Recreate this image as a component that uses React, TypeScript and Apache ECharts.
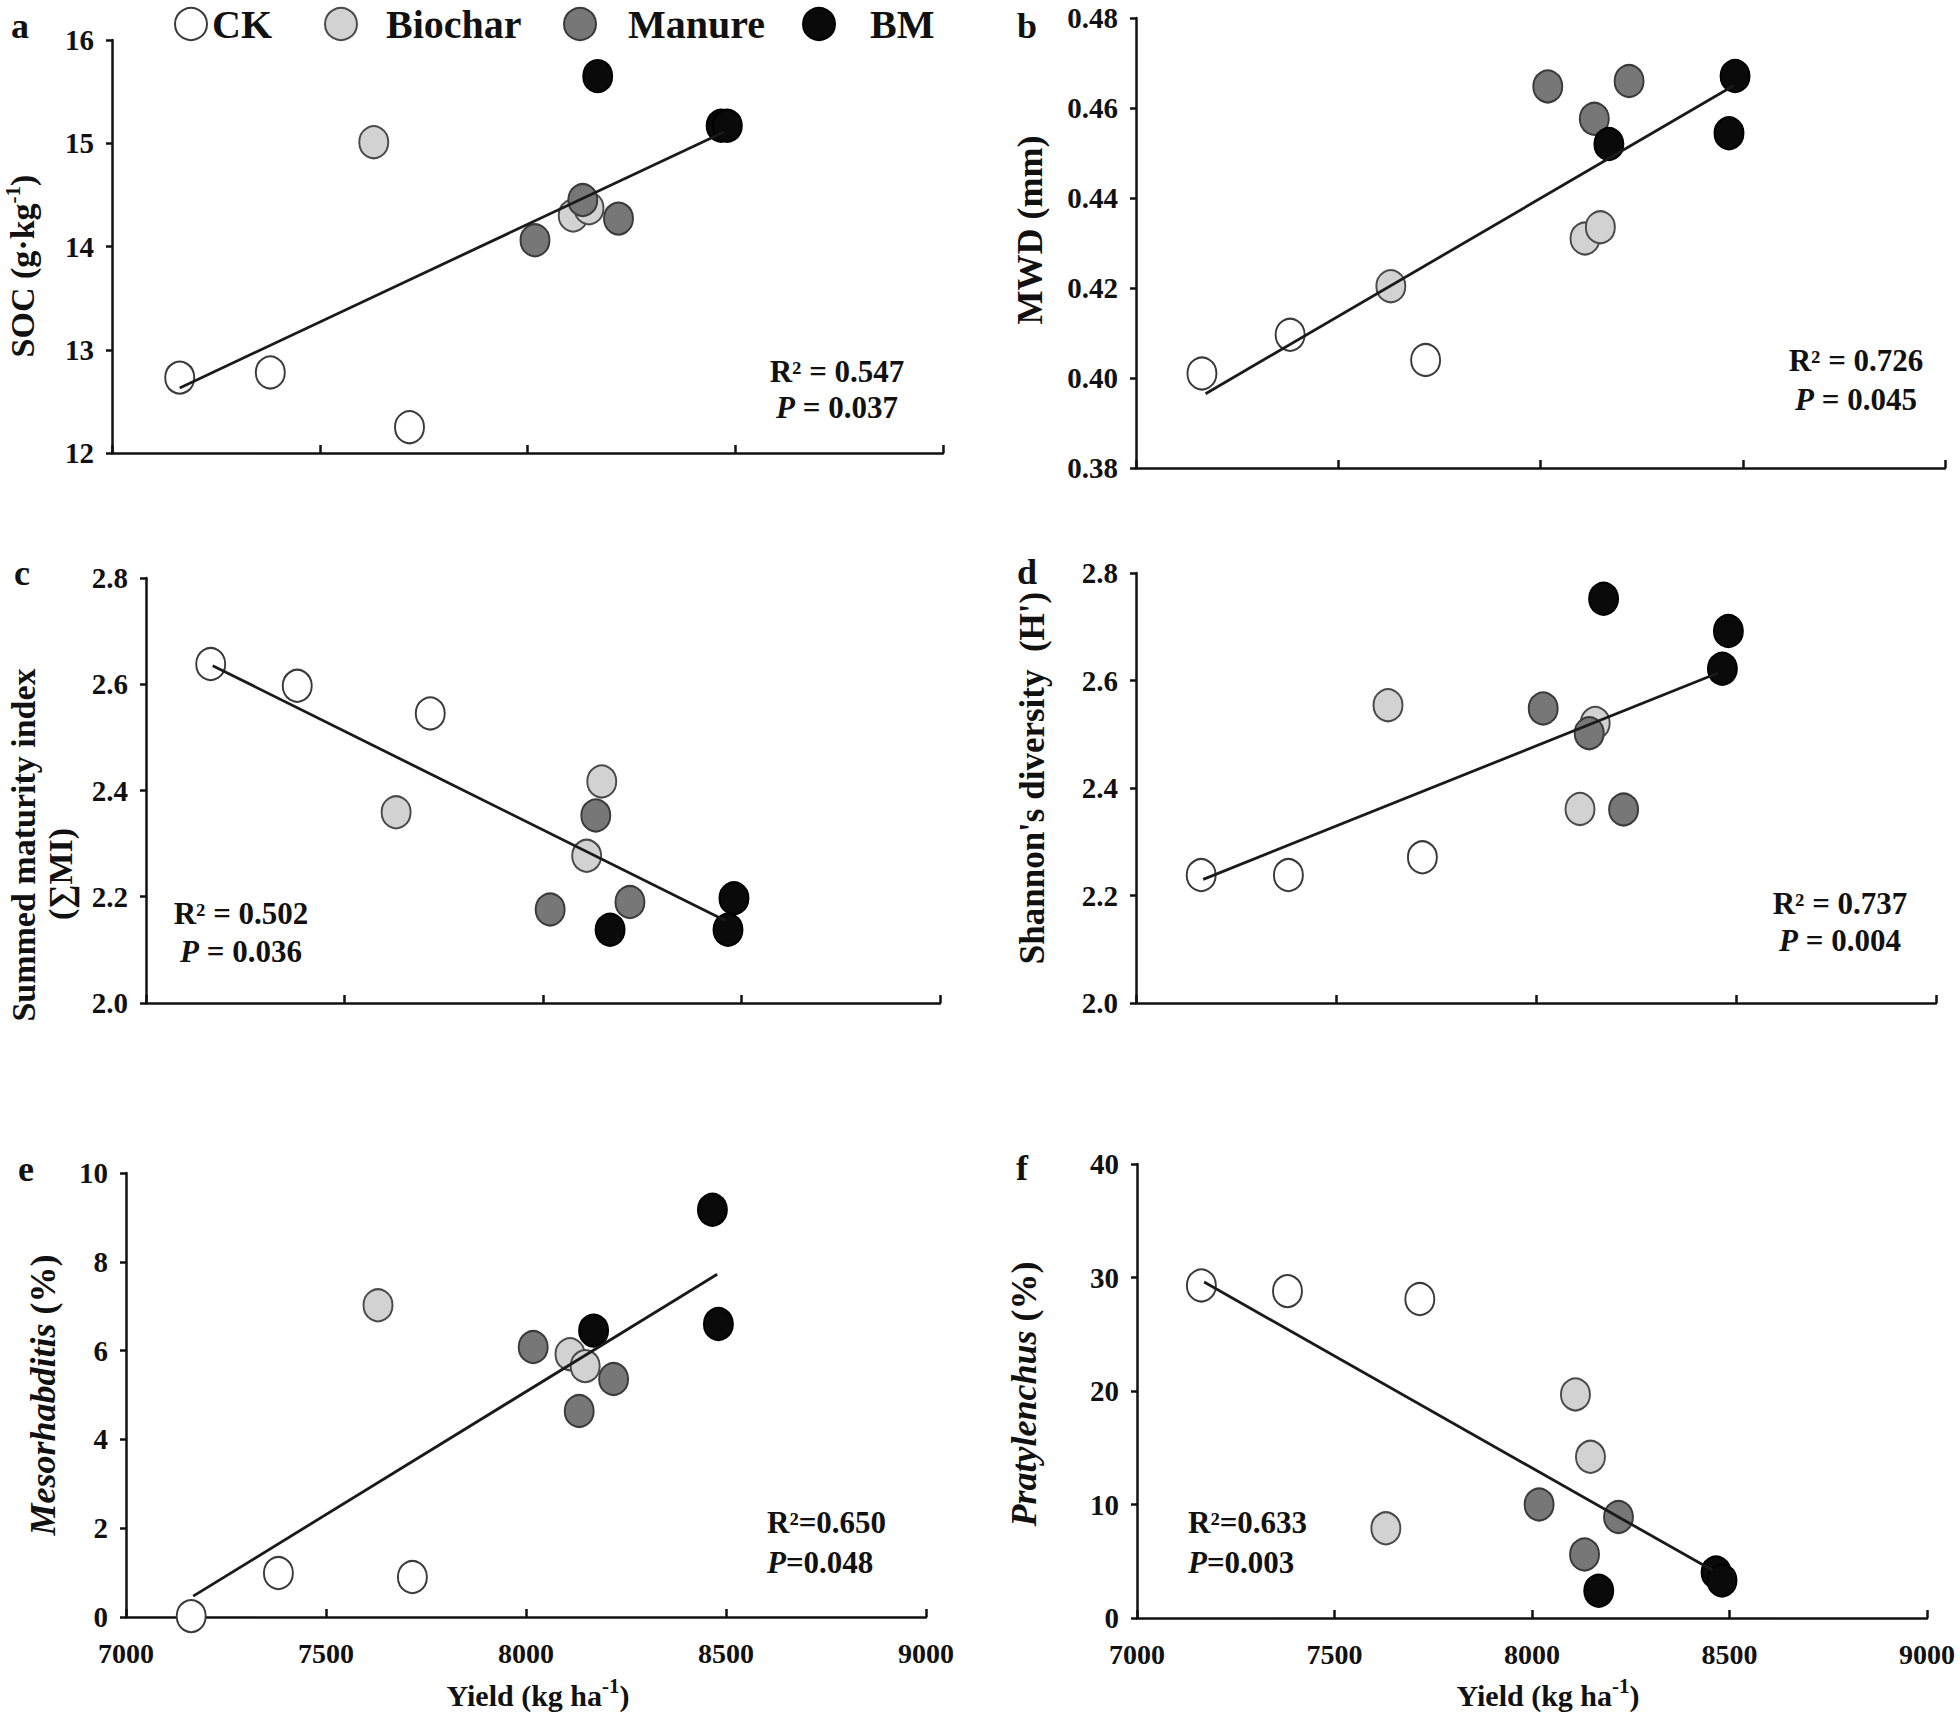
import React, { useEffect, useRef } from "react";
import * as echarts from "echarts";

// ---------- DATA ----------
const groups = ["CK", "Biochar", "Manure", "BM"];
const yieldCK = [7163, 7381, 7716];
const yieldBiochar = [7630, 8110, 8148];
const yieldManure = [8018, 8133, 8219];
const yieldBM = [8169, 8466, 8481];

const socCK = [12.73, 12.78, 12.25];
const socBiochar = [15.01, 14.3, 14.37];
const socManure = [14.06, 14.45, 14.27];
const socBM = [15.65, 15.17, 15.17];

const mwdCK = [0.401, 0.4096, 0.404];
const mwdBiochar = [0.4204, 0.431, 0.4335];
const mwdManure = [0.4648, 0.4576, 0.466];
const mwdBM = [0.452, 0.4544, 0.4671];

const smiCK = [2.638, 2.597, 2.545];
const smiBiochar = [2.359, 2.277, 2.417];
const smiManure = [2.176, 2.353, 2.19];
const smiBM = [2.138, 2.138, 2.197];

const shCK = [2.238, 2.238, 2.271];
const shBiochar = [2.554, 2.361, 2.521];
const shManure = [2.548, 2.502, 2.36];
const shBM = [2.752, 2.622, 2.692];

const mesoCK = [0.02, 0.99, 0.9];
const mesoBiochar = [7.02, 5.92, 5.65];
const mesoManure = [6.08, 4.64, 5.36];
const mesoBM = [6.45, 9.17, 6.6];

const pratCK = [29.3, 28.8, 28.1];
const pratBiochar = [7.9, 19.7, 14.2];
const pratManure = [10.0, 5.6, 8.9];
const pratBM = [2.4, 4.0, 3.3];

const trendSOC = [[7163, 12.63], [8473, 15.11]];
const trendMWD = [[7172, 0.3965], [8478, 0.465]];
const trendSMI = [[7168, 2.635], [8460, 2.155]];
const trendSH = [[7168, 2.23], [8455, 2.614]];
const trendMESO = [[7168, 0.47], [8478, 7.72]];
const trendPRAT = [[7170, 29.6], [8457, 4.2]];

const statsR2 = ["R² = 0.547", "R² = 0.726", "R² = 0.502", "R² = 0.737", "R²=0.650", "R²=0.633"];
const statsP = [" = 0.037", " = 0.045", " = 0.036", " = 0.004", "=0.048", "=0.003"];
const xTicks = [7000, 9000, 500];

// ---------- STYLE ----------
const FONT = '"Liberation Serif", "Times New Roman", serif';
const INK = "#111111";
const groupStyles = [
  { color: "#ffffff", borderColor: "#3a3a3a" },
  { color: "#d2d2d2", borderColor: "#4a4a4a" },
  { color: "#777777", borderColor: "#3a3a3a" },
  { color: "#0a0a0a", borderColor: "#000000" },
];
const yields = [yieldCK, yieldBiochar, yieldManure, yieldBM];

const panels = [
  { grid: { left: 112, top: 40, width: 831, height: 413 }, yMin: 12, yMax: 16, yInt: 1, dec: 0, xLabels: false,
    values: [socCK, socBiochar, socManure, socBM], trend: trendSOC },
  { grid: { left: 1136, top: 18, width: 809, height: 450 }, yMin: 0.38, yMax: 0.48, yInt: 0.02, dec: 2, xLabels: false,
    values: [mwdCK, mwdBiochar, mwdManure, mwdBM], trend: trendMWD },
  { grid: { left: 146, top: 578, width: 794, height: 425 }, yMin: 2.0, yMax: 2.8, yInt: 0.2, dec: 1, xLabels: false,
    values: [smiCK, smiBiochar, smiManure, smiBM], trend: trendSMI },
  { grid: { left: 1136, top: 573, width: 800, height: 430 }, yMin: 2.0, yMax: 2.8, yInt: 0.2, dec: 1, xLabels: false,
    values: [shCK, shBiochar, shManure, shBM], trend: trendSH },
  { grid: { left: 126, top: 1173, width: 800, height: 444 }, yMin: 0, yMax: 10, yInt: 2, dec: 0, xLabels: true,
    values: [mesoCK, mesoBiochar, mesoManure, mesoBM], trend: trendMESO },
  { grid: { left: 1137, top: 1164, width: 790, height: 454 }, yMin: 0, yMax: 40, yInt: 10, dec: 0, xLabels: true,
    values: [pratCK, pratBiochar, pratManure, pratBM], trend: trendPRAT },
];

const statsPos = [
  { x: 837, y1: 371, y2: 407, align: "center" },
  { x: 1856, y1: 360, y2: 399, align: "center" },
  { x: 241, y1: 913, y2: 951, align: "center" },
  { x: 1840, y1: 903, y2: 940, align: "center" },
  { x: 767, y1: 1522, y2: 1562, align: "left" },
  { x: 1188, y1: 1522, y2: 1562, align: "left" },
];

const letters = [
  { t: "a", x: 20, y: 26 },
  { t: "b", x: 1027, y: 26 },
  { t: "c", x: 22, y: 573 },
  { t: "d", x: 1027, y: 572 },
  { t: "e", x: 26, y: 1169 },
  { t: "f", x: 1022, y: 1168 },
];

function buildOption() {
  const grid: any[] = [];
  const xAxis: any[] = [];
  const yAxis: any[] = [];
  const series: any[] = [];

  panels.forEach((p, i) => {
    grid.push({ ...p.grid, containLabel: false, outerBoundsMode: "none" });
    xAxis.push({
      type: "value",
      gridIndex: i,
      min: xTicks[0],
      max: xTicks[1],
      interval: xTicks[2],
      splitLine: { show: false },
      axisLine: { show: true, onZero: false, lineStyle: { color: INK, width: 2.5 } },
      axisTick: { show: true, inside: true, length: 8, lineStyle: { color: INK, width: 2.5 } },
      axisLabel: {
        show: p.xLabels,
        margin: 22,
        color: INK,
        fontFamily: FONT,
        fontWeight: "bold",
        fontSize: 28,
        formatter: (v: number) => String(Math.round(v)),
      },
    });
    yAxis.push({
      type: "value",
      gridIndex: i,
      min: p.yMin,
      max: p.yMax,
      interval: p.yInt,
      splitLine: { show: false },
      axisLine: { show: true, onZero: false, lineStyle: { color: INK, width: 2.5 } },
      axisTick: { show: true, inside: false, length: 6, lineStyle: { color: INK, width: 2.5 } },
      axisLabel: {
        margin: 18,
        color: INK,
        fontFamily: FONT,
        fontWeight: "bold",
        fontSize: 29,
        formatter: (v: number) => v.toFixed(p.dec),
      },
    });
    groups.forEach((g, gi) => {
      series.push({
        name: g,
        type: "scatter",
        xAxisIndex: i,
        yAxisIndex: i,
        symbol: "circle",
        symbolSize: [29, 32],
        z: 2 + gi * 0.01,
        itemStyle: { ...groupStyles[gi], borderWidth: 2, opacity: 1 },
        emphasis: { disabled: true },
        data: p.values[gi].map((v, k) => [yields[gi][k], v]),
      });
    });
    series.push({
      name: "trend" + i,
      type: "line",
      xAxisIndex: i,
      yAxisIndex: i,
      symbol: "none",
      showSymbol: false,
      z: 5,
      lineStyle: { color: "#1a1a1a", width: 2.8 },
      data: p.trend,
    });
  });

  const legendLefts = [174, 324, 563, 802];
  const legendPads = [0, 24, 27, 30];
  const legend = groups.map((g, gi) => ({
    data: [{ name: g, icon: "circle" }],
    left: legendLefts[gi],
    top: 4,
    itemWidth: 32,
    itemHeight: 32,
    padding: 0,
    selectedMode: false,
    textStyle: {
      color: INK,
      fontFamily: FONT,
      fontWeight: "bold",
      fontSize: 40,
      padding: [0, 0, 0, legendPads[gi]],
    },
  }));

  const baseText = { fontFamily: FONT, fontWeight: "bold", fill: INK };
  const rich = {
    sup: { fontFamily: FONT, fontWeight: "bold", fontSize: 21, fill: INK, verticalAlign: "top", lineHeight: 40 },
    it: { fontFamily: FONT, fontWeight: "bold", fontStyle: "italic", fontSize: 36, fill: INK },
    ip: { fontFamily: FONT, fontWeight: "bold", fontStyle: "italic", fontSize: 31, fill: INK },
  };

  const graphics: any[] = [];
  letters.forEach((l) => {
    graphics.push({
      type: "text",
      x: l.x,
      y: l.y,
      style: { ...baseText, text: l.t, fontSize: 36, align: "center", verticalAlign: "middle" },
    });
  });

  const yTitles = [
    { text: "SOC (g·kg{sup|-1})", x: 22, y: 266, size: 34 },
    { text: "MWD (mm)", x: 1030, y: 230, size: 36 },
    { text: "Summed maturity index", x: 23, y: 845, size: 34 },
    { text: "(∑MI)", x: 60, y: 874, size: 34 },
    { text: "Shannon's diversity\u00a0\u00a0(H')", x: 1032, y: 778, size: 35 },
    { text: "{it|Mesorhabditis} (%)", x: 43, y: 1395, size: 36 },
    { text: "{it|Pratylenchus} (%)", x: 1024, y: 1394, size: 36 },
  ];
  yTitles.forEach((t) => {
    graphics.push({
      type: "text",
      x: t.x,
      y: t.y,
      rotation: Math.PI / 2,
      style: {
        ...baseText,
        text: t.text,
        fontSize: t.size,
        lineHeight: 40,
        align: "center",
        verticalAlign: "middle",
        rich,
      },
    });
  });

  [538, 1548].forEach((cx) => {
    graphics.push({
      type: "text",
      x: cx,
      y: 1695,
      style: {
        ...baseText,
        text: "Yield (kg ha{sup|-1})",
        fontSize: 30,
        lineHeight: 40,
        align: "center",
        verticalAlign: "middle",
        rich,
      },
    });
  });

  statsPos.forEach((s, i) => {
    graphics.push({
      type: "text",
      x: s.x,
      y: s.y1,
      style: { ...baseText, text: statsR2[i], fontSize: 31, align: s.align, verticalAlign: "middle" },
    });
    graphics.push({
      type: "text",
      x: s.x,
      y: s.y2,
      style: {
        ...baseText,
        text: "{ip|P}" + statsP[i],
        fontSize: 31,
        align: s.align,
        verticalAlign: "middle",
        rich,
      },
    });
  });

  return {
    animation: false,
    backgroundColor: "#ffffff",
    legend,
    grid,
    xAxis,
    yAxis,
    series,
    graphic: graphics,
  };
}

export default function App() {
  const ref = useRef<HTMLDivElement>(null);
  useEffect(() => {
    document.body.style.margin = "0";
    if (!ref.current) return;
    const chart = echarts.init(ref.current, null, { renderer: "svg" });
    chart.setOption(buildOption() as any);
    return () => chart.dispose();
  }, []);
  return <div ref={ref} style={{ width: 1960, height: 1714 }} />;
}
